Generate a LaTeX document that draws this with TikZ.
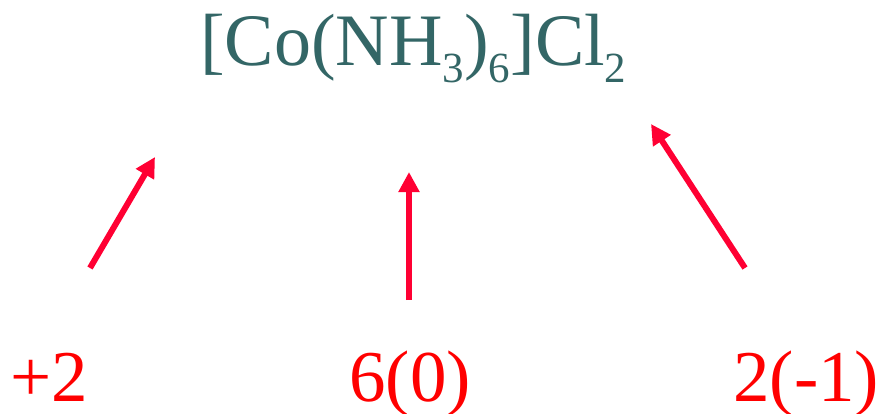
\documentclass[tikz,border=0pt]{standalone}
\usepackage{fontspec}
\setmainfont{Liberation Serif}
\usetikzlibrary{arrows.meta}
\definecolor{teal1}{HTML}{336666}
\definecolor{lblred}{HTML}{FF0000}
\definecolor{arrred}{HTML}{FF0033}
\newcommand{\mysub}[1]{\raisebox{-17pt}{\fontsize{43}{43}\selectfont #1}}
\tikzset{
  formula/.style={inner sep=0pt, text=teal1, font=\fontsize{74}{74}\selectfont},
  charge/.style={inner sep=0pt, text=lblred, font=\fontsize{73}{73}\selectfont},
  ptr/.style={draw=arrred, line width=6pt, -{Triangle[length=20pt,width=20pt]}, shorten >=0pt}
}
\begin{document}
\begin{tikzpicture}[x=1pt,y=-1pt]
\useasboundingbox (0,0) rectangle (885,414);
\node[formula, anchor=base west] (f) at (200,66) {[Co(NH\mysub{3})\mysub{6}]Cl\mysub{2}};
\node[charge, anchor=base west] (a) at (10,401) {+2};
\node[charge, anchor=base west] (b) at (349,401) {6(0)};
\node[charge, anchor=base west] (c) at (733,401) {2(-1)};
\coordinate (a0) at (90,268);
\coordinate (a1) at (155,157);
\coordinate (b0) at (409,300);
\coordinate (b1) at (409,172);
\coordinate (c0) at (745,268);
\coordinate (c1) at (651,124);
\draw[ptr] (a0) -- (a1);
\draw[ptr] (b0) -- (b1);
\draw[ptr] (c0) -- (c1);
\end{tikzpicture}
\end{document}
